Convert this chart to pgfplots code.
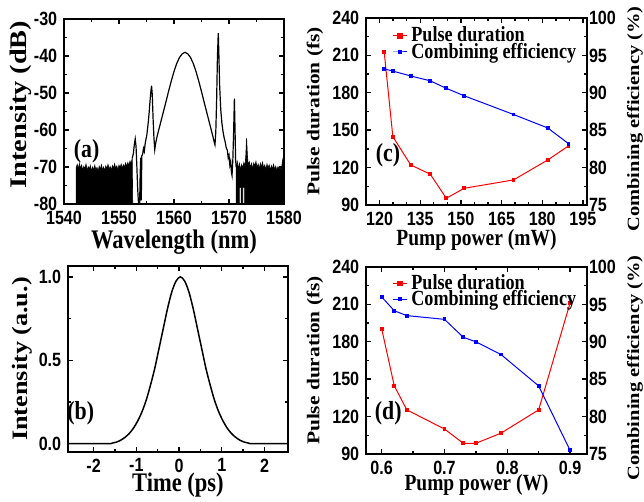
\documentclass[border=0pt]{standalone}
\usepackage{fontspec}
\usepackage{pgfplots}
\pgfplotsset{compat=1.18}
% the reference is stretched vertically, so horizontal text is narrowed and vertical text widened
\newfontfamily\hsans{Liberation Sans}[FakeStretch=0.84]
\newfontfamily\hserif{Liberation Serif}[FakeStretch=0.84]
\newfontfamily\vserif{Liberation Serif}[FakeStretch=1.19]

\pgfplotsset{
  panel/.style={
    scale only axis, anchor=south west,
    axis line style={line width=0.9pt,-},
    every tick/.style={black,line width=0.7pt},
    major tick length=2.6pt, minor tick length=1.5pt,
    tick align=inside,
    tick label style={font=\hsans\bfseries\fontsize{9.6}{10}\selectfont,inner sep=0.8pt},
    xticklabel style={yshift=-2.4pt},
    yticklabel style={xshift=-2.4pt},
    /pgf/number format/assume math mode=true,
    /pgf/number format/1000 sep={},
  },
  bigx/.style={xlabel style={font=\hserif\bfseries\fontsize{13.4}{15}\selectfont,
      at={(rel axis cs:0.5,0)},anchor=center,inner sep=0pt,yshift=-#1}},
  smallx/.style={xlabel style={font=\hserif\bfseries\fontsize{11.6}{12}\selectfont,
      at={(rel axis cs:0.5,0)},anchor=center,inner sep=0pt,yshift=-#1}},
  twinlegend/.style={
    legend style={at={(rel axis cs:0.11,#1)},anchor=west,draw=none,fill=none,
      font=\hserif\bfseries\fontsize{10.8}{11}\selectfont,row sep=-5pt,inner sep=1pt},
    legend cell align=left,
    legend image code/.code={\draw[mark repeat=2,mark phase=2,##1]
      plot coordinates {(0cm,0cm) (0.12cm,0cm) (0.24cm,0cm)};},
  },
}

\begin{document}
\begin{tikzpicture}
\path[use as bounding box] (0,0) rectangle (322pt,251pt);

% (a) spectrum
\begin{axis}[panel, at={(32pt,149pt)}, width=110pt, height=92.5pt,
  xmin=1540, xmax=1580, ymin=-80, ymax=-30,
  xtick={1540,1550,1560,1570,1580}, minor x tick num=1,
  ytick={-80,-70,-60,-50,-40,-30}, yticklabels={-80,-70,-60,-50,-40,-30}, minor y tick num=1,
  xlabel={Wavelength (nm)}, bigx=19pt,
  ylabel={Intensity (dB)},
  ylabel style={font=\vserif\bfseries\fontsize{11.9}{12}\selectfont,
    at={([xshift=-21.5pt,yshift=3.5pt]rel axis cs:0,0.5)},anchor=center},
]
\addplot[black,fill=black,line width=0.3pt] coordinates {
(1542.2,-80)(1542.2,-70.2)(1542.4,-69.3)(1542.6,-70.6)(1542.8,-69.0)(1543.0,-70.4)
(1543.2,-69.5)(1543.4,-70.9)(1543.6,-69.8)(1543.8,-70.5)(1544.0,-69.2)(1544.2,-71.0)
(1544.4,-69.9)(1544.6,-70.6)(1544.8,-69.6)(1545.0,-71.2)(1545.2,-70.0)(1545.4,-70.8)
(1545.6,-69.5)(1545.8,-70.9)(1546.0,-70.1)(1546.2,-71.3)(1546.4,-69.8)(1546.6,-70.7)
(1546.8,-69.4)(1547.0,-70.8)(1547.2,-70.0)(1547.4,-71.0)(1547.6,-69.7)(1547.8,-70.5)
(1548.0,-69.3)(1548.2,-70.6)(1548.4,-69.9)(1548.6,-70.9)(1548.8,-69.6)(1549.0,-70.3)
(1549.2,-69.1)(1549.4,-70.5)(1549.6,-69.7)(1549.8,-70.8)(1550.0,-69.5)(1550.2,-70.2)
(1550.4,-69.2)(1550.6,-70.4)(1550.8,-69.4)(1551.0,-70.0)(1551.2,-68.9)(1551.4,-69.9)
(1551.6,-68.8)(1551.8,-69.6)(1552.0,-68.4)(1552.2,-69.2)(1552.4,-67.6)(1552.5,-80)
} -- cycle;
\addplot[black,fill=black,line width=0.3pt] coordinates {
(1571.3,-70)(1571.5,-68.5)(1571.7,-70.5)(1571.9,-69)(1572.1,-70.8)(1572.3,-69.3)
(1572.5,-70.2)(1572.7,-68.8)(1572.9,-70)(1573.05,-67)(1573.2,-62.2)(1573.35,-67)
(1573.5,-69.5)(1573.7,-68.6)(1573.9,-70.3)(1574.1,-69)(1574.3,-70.5)(1574.5,-68.9)
(1574.7,-69.8)(1574.9,-68.5)(1575.1,-70.2)(1575.3,-69.2)(1575.5,-70.6)(1575.7,-69)
(1575.9,-70)(1576.1,-68.7)(1576.3,-70.4)(1576.5,-69.5)(1576.7,-70.8)(1576.9,-69.2)
(1577.1,-70.3)(1577.3,-69.4)(1577.5,-70.9)(1577.7,-69.6)(1577.9,-70.5)(1578.1,-69.3)
(1578.3,-70.7)(1578.5,-69.8)(1578.7,-71)(1578.9,-69.9)(1579.1,-70.6)(1579.3,-70.0)
(1579.5,-71.2)(1579.7,-68.5)(1579.85,-67.5)(1580,-70)
(1580,-80)(1572.85,-80)(1572.85,-75.5)(1572.5,-75.5)(1572.5,-80)(1572.2,-80)
(1572.2,-75.5)(1571.9,-75.5)(1571.9,-80)(1571.3,-80)
} -- cycle;
\addplot[black,line width=0.6pt] coordinates {
(1552.4,-67.6)(1552.6,-66.5)(1552.8,-63.8)(1552.95,-62.4)(1553.1,-64.5)(1553.25,-70)
(1553.4,-76)(1553.55,-80)(1553.75,-80)(1553.85,-72)(1553.95,-67.5)(1554.05,-79)
(1554.15,-67)(1554.3,-66.5)(1554.45,-65)(1554.6,-65.8)(1554.75,-63.8)(1554.9,-62.5)
(1555.05,-61.5)(1555.2,-59.5)(1555.35,-57.5)(1555.5,-55)(1555.65,-52)(1555.8,-49.5)
(1555.92,-48)(1556.05,-50.5)(1556.2,-57)(1556.35,-62)(1556.5,-65.3)(1556.65,-63.8)
(1556.8,-62.6)(1557.0,-61.3)(1557.5,-58.4)(1558.0,-55.5)(1558.5,-52.6)(1559.0,-49.6)
(1559.5,-46.8)(1560.0,-44.2)(1560.5,-42.0)(1561.0,-40.4)(1561.5,-39.4)(1562.0,-39.0)
(1562.5,-39.4)(1563.0,-40.4)(1563.5,-42.0)(1564.0,-44.2)(1564.5,-46.8)(1565.0,-49.6)
(1565.5,-52.6)(1566.0,-55.5)(1566.5,-58.4)(1567.0,-61.3)(1567.25,-62.9)(1567.45,-64)
(1567.6,-60.5)(1567.75,-52)(1567.9,-40)(1568.05,-33.8)(1568.15,-39)(1568.3,-48)
(1568.5,-54.5)(1568.7,-58)(1568.9,-60.3)(1569.1,-62)(1569.3,-63.2)(1569.5,-64.8)
(1569.7,-65.5)(1569.85,-67.5)(1570.0,-66.8)(1570.15,-69.5)(1570.3,-68.5)(1570.45,-71.5)
(1570.55,-72.3)(1570.7,-68)(1570.85,-60)(1570.98,-51.5)(1571.1,-60)(1571.2,-68)(1571.3,-70)
};
\node[font=\hserif\bfseries\fontsize{13}{14}\selectfont] at (axis cs:1544.1,-65.8) {(a)};
\end{axis}

% (b) autocorrelation
\begin{axis}[panel, at={(34pt,25pt)}, width=110pt, height=93pt,
  xmin=-2.6, xmax=2.55, ymin=-0.05, ymax=1.065,
  xtick={-2,-1,0,1,2}, xticklabels={-2,-1,0,1,2}, minor x tick num=1,
  ytick={0,0.5,1}, yticklabels={0.0,0.5,1.0}, minor y tick num=1,
  xlabel={Time (ps)}, bigx=16.5pt,
  ylabel={Intensity (a.u.)},
  ylabel style={font=\vserif\bfseries\fontsize{11}{12}\selectfont,
    at={([xshift=-23pt]rel axis cs:0,0.5)},anchor=center},
]
\addplot[black,line width=0.75pt,smooth] coordinates {
(-2.6,0)(-1.67,0)(-1.57,0.003)(-1.47,0.009)(-1.37,0.02)(-1.27,0.037)(-1.17,0.06)
(-1.07,0.092)(-0.97,0.135)(-0.87,0.19)(-0.77,0.26)(-0.67,0.35)(-0.57,0.45)(-0.47,0.57)
(-0.37,0.69)(-0.27,0.81)(-0.17,0.91)(-0.07,0.975)(0.03,1.0)(0.13,0.975)(0.23,0.91)
(0.33,0.81)(0.43,0.69)(0.53,0.57)(0.63,0.45)(0.73,0.35)(0.83,0.26)(0.93,0.19)
(1.03,0.135)(1.13,0.092)(1.23,0.06)(1.33,0.037)(1.43,0.02)(1.53,0.009)(1.63,0.003)
(1.73,0)(2.55,0)
};
\node[font=\hserif\bfseries\fontsize{13}{14}\selectfont] at (axis cs:-2.3,0.185) {(b)};
\end{axis}

% (c) versus pump power (mW)
\begin{axis}[panel, at={(183pt,148.5pt)}, width=110.5pt, height=93.5pt,
  xmin=115, xmax=196.5, ymin=90, ymax=240,
  xtick={120,135,150,165,180,195}, minor x tick num=2,
  ytick={90,120,150,180,210,240}, minor y tick num=1, ytick pos=left,
  xlabel={Pump power (mW)}, smallx=17.5pt,
  ylabel={Pulse duration (fs)},
  ylabel style={font=\vserif\bfseries\fontsize{9}{10}\selectfont,
    at={([xshift=-25.5pt]rel axis cs:0,0.5)},anchor=center},
]
\addplot[red,line width=0.5pt,mark=square*,mark size=0.7pt] coordinates {
(121.7,213)(124.9,144.8)(131.5,122.1)(138.7,114.7)(144.6,95.4)(151.2,103.4)
(169.4,110.1)(182,126.1)(189.7,137.4)
};
\node[font=\hserif\bfseries\fontsize{13}{14}\selectfont] at (axis cs:123.1,129.5) {(c)};
\end{axis}
\begin{axis}[panel, at={(183pt,148.5pt)}, width=110.5pt, height=93.5pt,
  xmin=115, xmax=196.5, ymin=75, ymax=100,
  axis x line=none, axis y line*=right, tick align=inside,
  yticklabel style={xshift=2.4pt},
  ytick={75,80,85,90,95,100}, minor y tick num=1,
  ylabel={Combining efficiency (\%)},
  ylabel style={font=\vserif\bfseries\fontsize{8.6}{10}\selectfont,
    at={([xshift=24pt,yshift=-3.7pt]rel axis cs:1,0.5)},anchor=center},
  twinlegend=0.861,
]
\addlegendimage{red,line width=0.5pt,mark=square*,mark size=1.1pt}
\addlegendentry{Pulse duration}
\addplot[blue,line width=0.5pt,mark=square*,mark size=0.7pt] coordinates {
(121.7,93.2)(124.9,92.9)(131.5,92.25)(138.7,91.6)(144.6,90.6)(151.2,89.6)
(169.4,87.1)(182,85.3)(189.7,83.2)
};
\addlegendentry{Combining efficiency}
\end{axis}

% (d) versus pump power (W)
\begin{axis}[panel, at={(183pt,24pt)}, width=110.5pt, height=93.5pt,
  xmin=0.575, xmax=0.927, ymin=90, ymax=240,
  xtick={0.6,0.7,0.8,0.9}, xticklabels={0.6,0.7,0.8,0.9}, minor x tick num=1,
  ytick={90,120,150,180,210,240}, minor y tick num=1, ytick pos=left,
  xlabel={Pump power (W)}, smallx=15.5pt,
  ylabel={Pulse duration (fs)},
  ylabel style={font=\vserif\bfseries\fontsize{9}{10}\selectfont,
    at={([xshift=-25.5pt]rel axis cs:0,0.5)},anchor=center},
]
\addplot[red,line width=0.5pt,mark=square*,mark size=0.7pt] coordinates {
(0.60,190.4)(0.62,144.7)(0.64,125.4)(0.70,110)(0.73,98.6)(0.75,98.6)
(0.79,106.7)(0.85,125.4)(0.90,211)
};
\node[font=\hserif\bfseries\fontsize{13}{14}\selectfont] at (axis cs:0.6105,122.7) {(d)};
\end{axis}
\begin{axis}[panel, at={(183pt,24pt)}, width=110.5pt, height=93.5pt,
  xmin=0.575, xmax=0.927, ymin=75, ymax=100,
  axis x line=none, axis y line*=right, tick align=inside,
  yticklabel style={xshift=2.4pt},
  ytick={75,80,85,90,95,100}, minor y tick num=1,
  ylabel={Combining efficiency (\%)},
  ylabel style={font=\vserif\bfseries\fontsize{8.6}{10}\selectfont,
    at={([xshift=24pt,yshift=-3.7pt]rel axis cs:1,0.5)},anchor=center},
  twinlegend=0.87,
]
\addlegendimage{red,line width=0.5pt,mark=square*,mark size=1.1pt}
\addlegendentry{Pulse duration}
\addplot[blue,line width=0.5pt,mark=square*,mark size=0.7pt] coordinates {
(0.60,96.0)(0.62,94.15)(0.64,93.5)(0.70,93.0)(0.73,90.6)(0.75,90.0)
(0.79,88.3)(0.85,84.1)(0.90,75.5)
};
\addlegendentry{Combining efficiency}
\end{axis}
\end{tikzpicture}
\end{document}
